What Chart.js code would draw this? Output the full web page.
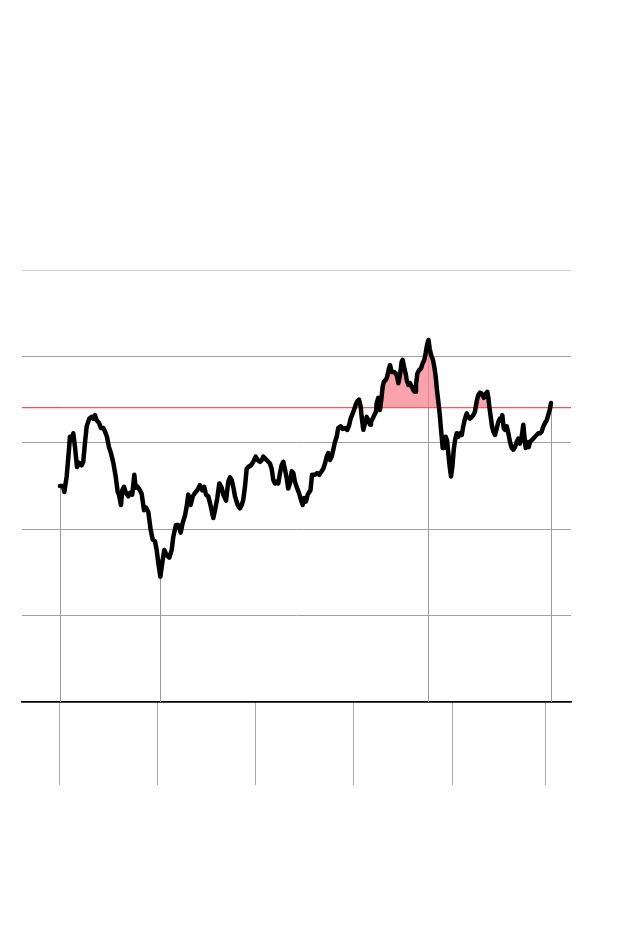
<!DOCTYPE html>
<html>
<head>
<meta charset="utf-8">
<script src="https://cdn.jsdelivr.net/npm/chart.js@4/dist/chart.umd.min.js"></script>
<style>
  html, body { margin: 0; padding: 0; background: #fff; }
  #wrap { width: 640px; height: 940px; }
</style>
</head>
<body>
<div id="wrap"><canvas id="chart" width="640" height="940"></canvas></div>
<script>
// --- Data (x in months from start, y in index units) ---
const months = [
  0, 0.37, 0.53, 0.82, 1.10, 1.22, 1.43, 1.63, 1.84, 2.08, 2.33, 2.66, 2.85, 3.06, 3.27, 3.59, 3.88, 4.08, 4.29, 4.49,
  4.78, 5.02, 5.30, 5.51, 5.75, 6.00, 6.24, 6.53, 6.82, 7.07, 7.22, 7.47, 7.63, 7.84, 8.08, 8.36, 8.57, 8.85, 9.10, 9.27,
  9.51, 9.80, 10.0, 10.29, 10.53, 10.81, 11.11, 11.35, 11.63, 11.84, 12.04, 12.29, 12.57, 12.77, 13.06, 13.38, 13.68, 13.87, 14.20, 14.49,
  14.78, 15.02, 15.31, 15.51, 15.71, 16.00, 16.25, 16.53, 16.81, 17.14, 17.42, 17.67, 17.88, 18.16, 18.37, 18.57, 18.77, 18.98, 19.26, 19.51,
  19.80, 20.00, 20.33, 20.61, 20.82, 21.02, 21.22, 21.43, 21.76, 22.04, 22.25, 22.44, 22.65, 22.86, 23.06, 23.39, 23.67, 23.96, 24.21, 24.49,
  24.70, 24.89, 25.10, 25.51, 25.71, 25.92, 26.12, 26.33, 26.53, 26.73, 26.94, 27.14, 27.34, 27.55, 27.76, 27.95, 28.16, 28.37, 28.57, 28.77,
  28.98, 29.26, 29.51, 29.72, 29.91, 30.12, 30.33, 30.53, 30.67, 30.86, 31.22, 31.50, 31.75, 32.04, 32.24, 32.45, 32.66, 32.85, 33.06, 33.27,
  33.46, 33.67, 33.88, 34.07, 34.36, 34.61, 34.90, 35.18, 35.42, 35.59, 35.84, 36.00, 36.21, 36.40, 36.61, 36.82, 36.94, 37.14, 37.35, 37.55,
  37.75, 37.96, 38.08, 38.29, 38.48, 38.69, 38.78, 38.97, 39.18, 39.34, 39.51, 39.67, 39.92, 40.08, 40.28, 40.41, 40.61, 40.90, 41.14, 41.30,
  41.43, 41.63, 41.84, 41.96, 42.12, 42.33, 42.45, 42.65, 42.86, 43.07, 43.26, 43.47, 43.59, 43.75, 43.96, 44.20, 44.41, 44.61, 44.78, 44.94,
  45.12, 45.27, 45.43, 45.67, 45.83, 46.00, 46.16, 46.32, 46.49, 46.62, 46.74, 46.86, 47.06, 47.23, 47.39, 47.55, 47.72, 47.88, 48.04, 48.21,
  48.37, 48.57, 48.77, 48.98, 49.19, 49.38, 49.59, 49.80, 49.99, 50.20, 50.41, 50.60, 50.81, 51.02, 51.21, 51.42, 51.63, 51.91, 52.16, 52.32,
  52.44, 52.57, 52.74, 52.90, 53.06, 53.27, 53.48, 53.67, 53.88, 54.00, 54.16, 54.33, 54.49, 54.70, 54.90, 55.10, 55.31, 55.51, 55.71, 55.92,
  56.12, 56.32, 56.53, 56.73, 56.85, 57.02, 57.22, 57.39, 57.55, 57.76, 57.96, 58.16, 58.37, 58.57, 58.77, 58.98, 59.18, 59.39, 59.59, 59.78,
  59.99, 60.12
];

const values = [
  25.0, 25.0, 24.3, 26.1, 29.2, 30.7, 30.3, 31.1, 29.5, 27.2, 27.7, 27.4, 27.8, 30.0, 31.9, 32.8, 33.0, 32.8, 33.2, 32.6,
  32.3, 31.7, 31.7, 31.3, 30.7, 29.5, 28.8, 27.7, 26.1, 24.3, 24.0, 22.8, 24.5, 24.9, 24.2, 23.8, 24.2, 24.0, 26.3, 24.8,
  24.9, 24.5, 24.1, 22.2, 22.5, 22.0, 19.9, 18.8, 18.6, 17.6, 16.1, 14.5, 16.4, 17.6, 17.0, 16.7, 17.6, 19.1, 20.5, 20.5,
  19.6, 20.7, 21.6, 22.6, 24.0, 22.8, 23.8, 24.2, 24.5, 25.1, 24.5, 24.9, 24.0, 23.8, 23.0, 22.2, 21.3, 22.2, 23.6, 25.3,
  24.8, 24.0, 23.3, 25.5, 26.0, 25.7, 24.9, 23.8, 22.8, 22.4, 22.8, 23.4, 24.9, 27.0, 27.2, 27.4, 27.8, 28.4, 28.0, 27.8,
  28.0, 28.4, 28.2, 27.8, 27.6, 27.0, 25.7, 25.3, 25.5, 25.3, 26.5, 27.4, 27.8, 26.9, 25.9, 24.7, 25.3, 26.7, 26.5, 25.5,
  24.9, 24.2, 23.4, 22.8, 23.6, 23.2, 24.0, 24.3, 24.5, 26.3, 26.3, 26.5, 26.3, 26.7, 27.0, 27.6, 28.4, 28.8, 28.0, 28.4,
  29.2, 30.1, 30.7, 31.7, 31.9, 31.6, 31.7, 31.5, 32.1, 32.8, 33.4, 33.8, 34.4, 34.8, 35.0, 34.2, 33.0, 31.5, 32.3, 33.0,
  32.6, 32.1, 32.4, 32.8, 33.2, 33.6, 34.6, 35.2, 33.8, 35.0, 36.5, 37.1, 37.3, 37.7, 38.6, 39.0, 38.2, 38.2, 38.0, 37.6,
  36.9, 37.8, 39.4, 39.6, 38.8, 38.0, 37.3, 36.7, 36.9, 36.5, 36.1, 35.9, 36.7, 38.0, 38.4, 38.6, 39.2, 39.6, 40.4, 41.3,
  41.9, 40.9, 40.2, 39.6, 38.8, 37.7, 36.1, 34.8, 33.4, 31.9, 30.7, 29.4, 29.4, 30.7, 30.3, 28.8, 27.2, 26.1, 27.2, 29.2,
  30.3, 31.1, 30.7, 31.1, 30.9, 31.9, 32.8, 33.4, 33.0, 32.8, 33.0, 33.2, 33.6, 34.8, 35.5, 35.8, 35.7, 35.2, 35.7, 35.9,
  35.3, 34.2, 33.0, 31.9, 31.3, 30.9, 31.7, 32.4, 32.8, 32.6, 33.2, 31.7, 31.5, 31.9, 31.1, 30.1, 29.4, 29.2, 29.5, 30.1,
  30.5, 29.9, 30.7, 32.1, 30.9, 29.4, 30.1, 29.5, 30.1, 30.3, 30.5, 30.7, 30.9, 31.1, 31.1, 31.3, 31.9, 32.3, 32.6, 33.2,
  33.9, 34.6
];

// x tick positions (months) and y gridline values
const xTicks = [0, 11.88, 23.88, 36.0, 48.0, 59.39];
const yTicks = [0, 10, 20, 30, 40, 50];
const threshold = 34.08;
const xMin = -4.65;
const xMax = 62.57;

const series = months.map((m, i) => ({ x: m, y: values[i] }));

// drop lines from start, low, high and last point down to the baseline
const dropLines = {
    id: 'dropLines',
    beforeDatasetsDraw(chart) {
        const pts = chart.getDatasetMeta(1).data;
        let lo = 0, hi = 0;
        values.forEach((v, i) => {
            if (v < values[lo]) lo = i;
            if (v > values[hi]) hi = i;
        });
        const idx = [0, lo, hi, values.length - 1];
        const ctx = chart.ctx;
        const bottom = chart.chartArea.bottom;
        ctx.save();
        ctx.strokeStyle = '#9a9a9a';
        ctx.lineWidth = 1;
        idx.forEach(i => {
            const x = Math.round(pts[i].x) + 0.5;
            ctx.beginPath();
            ctx.moveTo(x, pts[i].y);
            ctx.lineTo(x, bottom);
            ctx.stroke();
        });
        ctx.restore();
    }
};

const ctx = document.getElementById('chart').getContext('2d');
new Chart(ctx, {
    type: 'line',
    data: {
        datasets: [
            {
                // threshold line
                data: [{ x: xMin, y: threshold }, { x: xMax, y: threshold }],
                borderColor: '#f0505e',
                borderWidth: 1.25,
                pointRadius: 0,
                fill: false,
                order: 2
            },
            {
                data: series,
                borderColor: '#000',
                borderWidth: 4.5,
                borderJoinStyle: 'round',
                borderCapStyle: 'round',
                pointRadius: 0,
                tension: 0,
                fill: { target: { value: threshold }, above: 'rgba(246,132,144,0.75)', below: 'rgba(0,0,0,0)' },
                order: 1
            }
        ]
    },
    options: {
        responsive: false,
        animation: false,
        layout: { padding: { left: 22, right: 69, top: 270, bottom: 155 } },
        plugins: {
            legend: { display: false },
            tooltip: { enabled: false }
        },
        scales: {
            x: {
                type: 'linear',
                min: xMin,
                max: xMax,
                afterBuildTicks: axis => { axis.ticks = xTicks.map(v => ({ value: v })); },
                ticks: { display: false },
                grid: {
                    drawOnChartArea: false,
                    drawTicks: true,
                    tickLength: 83,
                    color: '#a8a8a8',
                    lineWidth: 1
                },
                border: { display: true, color: '#000', width: 1.5 }
            },
            y: {
                min: 0,
                max: 50,
                afterBuildTicks: axis => { axis.ticks = yTicks.map(v => ({ value: v })); },
                ticks: { display: false },
                grid: {
                    drawTicks: false,
                    color: c => c.tick.value === 0 ? '#000' : (c.tick.value === 50 ? '#cfcfcf' : '#a0a0a0'),
                    lineWidth: c => c.tick.value === 0 ? 1.5 : 1
                },
                border: { display: false }
            }
        }
    },
    plugins: [dropLines]
});
</script>
</body>
</html>
